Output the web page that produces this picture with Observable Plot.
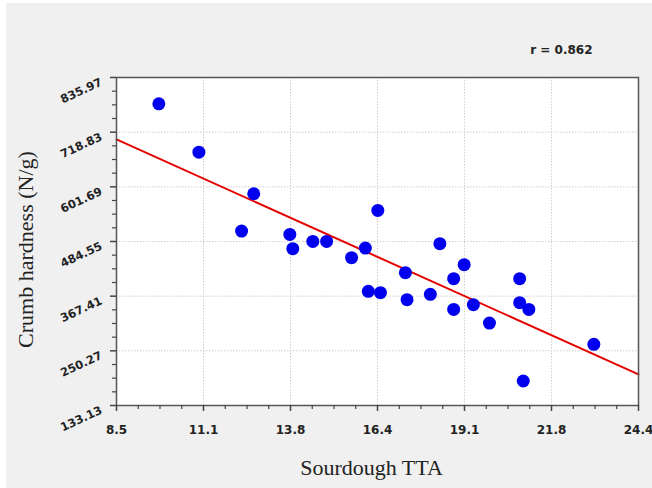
<!DOCTYPE html>
<html><head><meta charset="utf-8">
<script src="https://cdn.jsdelivr.net/npm/d3@7"></script>
<script src="https://cdn.jsdelivr.net/npm/@observablehq/plot@0.6"></script>
<style>
html,body{margin:0;padding:0;background:#f0f0f0;}
#chart svg{display:block;background:#f0f0f0;box-shadow:inset 6px 3px 0 #fff;}
</style></head><body><div id="chart"></div>
<script>
const tta = [9.79, 11.01, 12.68, 12.31, 13.78, 13.87, 14.48, 14.90, 15.66, 16.08, 16.17, 16.46, 16.54, 17.30, 17.35, 18.06, 18.35, 18.77, 18.77, 19.09, 19.37, 19.86, 20.78, 20.78, 21.06, 20.89, 23.04];
const hardness = [779.6, 676.0, 586.9, 506.8, 499.8, 469.1, 484.8, 484.8, 449.8, 470.4, 377.7, 551.2, 374.9, 417.7, 359.9, 371.3, 479.8, 404.9, 339.1, 434.9, 349.2, 309.8, 404.9, 353.5, 339.1, 185.6, 264.2];
const xTicks = [8.5, 11.15, 13.8, 16.45, 19.1, 21.75, 24.4];
const xTickLabels = ["8.5", "11.1", "13.8", "16.4", "19.1", "21.8", "24.4"];
const yTicks = [133.13, 250.27, 367.41, 484.55, 601.69, 718.83, 835.97];
const yTickLabels = ["133.13", "250.27", "367.41", "484.55", "601.69", "718.83", "835.97"];
const fitX = [8.5, 24.4];
const fitY = [703.2, 199.9];
const rLabel = "r = 0.862";
const xTitle = "Sourdough TTA";
const yTitle = "Crumb hardness (N/g)";

const points = tta.map((x, i) => ({x, y: hardness[i]}));
const fit = fitX.map((x, i) => ({x, y: fitY[i]}));
const xStep = (xTicks[1] - xTicks[0]) / 4;
const yStep = (yTicks[1] - yTicks[0]) / 4;
const xMinor = d3.range(0, 25).map(i => xTicks[0] + i * xStep).filter((d, i) => i % 4 !== 0);
const yMinor = d3.range(0, 25).map(i => yTicks[0] + i * yStep).filter((d, i) => i % 4 !== 0);

const tickFont = "DejaVu Sans";
const chart = Plot.plot({
  width: 652, height: 488,
  marginLeft: 116, marginRight: 14, marginTop: 77, marginBottom: 83,
  style: {background: "transparent", color: "#222", fontFamily: tickFont},
  x: {domain: [8.5, 24.4], axis: null},
  y: {domain: [133.13, 835.97], axis: null},
  marks: [
    Plot.frame({fill: "white", stroke: null}),
    Plot.gridX(xTicks, {stroke: "#cfcfcf", strokeOpacity: 1, strokeDasharray: "1.5,1.5"}),
    Plot.gridY(yTicks, {stroke: "#cfcfcf", strokeOpacity: 1, strokeDasharray: "1.5,1.5"}),
    Plot.line(fit, {x: "x", y: "y", stroke: "#e60000", strokeWidth: 2}),
    Plot.dot(points, {x: "x", y: "y", r: 6.5, fill: "#0000ee", stroke: null}),
    Plot.frame({stroke: "#555", strokeWidth: 1.5}),
    Plot.axisX(xTicks, {label: null, tickSize: 6, tickPadding: 14, stroke: "#444", strokeWidth: 1.5,
      tickFormat: d => xTickLabels[xTicks.indexOf(d)], fontSize: 12, fontWeight: "bold", fontFamily: tickFont, fill: "#222"}),
    Plot.axisX(xMinor, {label: null, tickSize: 4, stroke: "#444", strokeWidth: 1.2, tickFormat: () => ""}),
    Plot.axisY(yTicks, {label: null, tickSize: 6, stroke: "#444", strokeWidth: 1.5, tickFormat: () => ""}),
    Plot.axisY(yMinor, {label: null, tickSize: 4, stroke: "#444", strokeWidth: 1.2, tickFormat: () => ""}),
    Plot.text(yTicks, {y: d => d, frameAnchor: "left", dx: -15, dy: 4, rotate: -25,
      text: (d, i) => yTickLabels[i], textAnchor: "end", lineAnchor: "middle",
      fontSize: 11.5, fontWeight: "bold", fontFamily: tickFont, fill: "#222"}),
    Plot.text([yTitle], {frameAnchor: "left", dx: -91, dy: 8, rotate: -90, textAnchor: "middle", lineAnchor: "middle",
      fontSize: 22, fontFamily: "Liberation Serif", fill: "#222"}),
    Plot.text([xTitle], {frameAnchor: "bottom", dx: -6, dy: 62, textAnchor: "middle", lineAnchor: "middle",
      fontSize: 22, fontFamily: "Liberation Serif", fill: "#222"}),
    Plot.text([rLabel], {frameAnchor: "top-right", dx: -46, dy: -27, textAnchor: "end", lineAnchor: "middle",
      fontSize: 12, fontWeight: "bold", fontFamily: tickFont, fill: "#222"})
  ]
});
document.getElementById("chart").appendChild(chart);
</script></body></html>
